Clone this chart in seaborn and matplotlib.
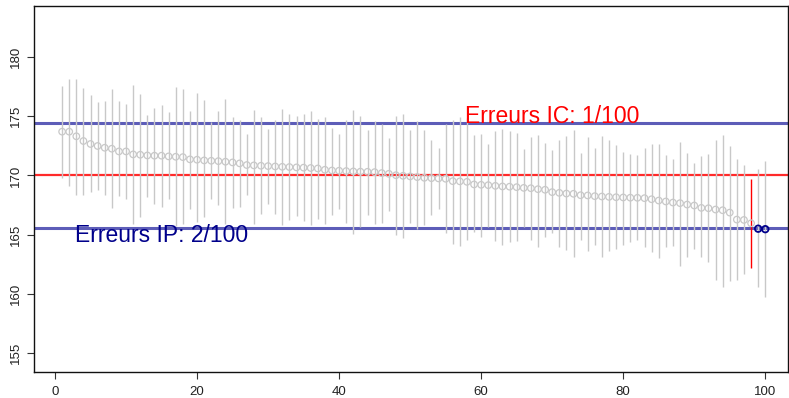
import matplotlib
matplotlib.use("Agg")
import matplotlib.pyplot as plt
import numpy as np
import pandas as pd
import seaborn as sns

# Simulated samples: sorted means with their confidence intervals
means = [173.70, 173.70, 173.31, 172.91, 172.66, 172.49, 172.34, 172.26, 172.03, 172.03,
         171.78, 171.75, 171.69, 171.67, 171.67, 171.61, 171.58, 171.55, 171.36, 171.33,
         171.27, 171.24, 171.21, 171.16, 171.10, 171.02, 170.88, 170.85, 170.82, 170.79,
         170.76, 170.73, 170.71, 170.68, 170.66, 170.63, 170.59, 170.48, 170.42, 170.40,
         170.37, 170.34, 170.32, 170.31, 170.28, 170.20, 170.14, 170.02, 169.97, 169.92,
         169.86, 169.80, 169.77, 169.75, 169.72, 169.52, 169.50, 169.46, 169.24, 169.21,
         169.18, 169.12, 169.07, 169.05, 169.01, 168.95, 168.92, 168.84, 168.79, 168.59,
         168.53, 168.47, 168.45, 168.33, 168.31, 168.25, 168.22, 168.19, 168.16, 168.14,
         168.12, 168.11, 168.08, 167.99, 167.88, 167.80, 167.71, 167.66, 167.54, 167.46,
         167.26, 167.23, 167.12, 167.06, 166.86, 166.27, 166.24, 165.96, 165.50, 165.46]

upper = [177.54, 178.19, 178.19, 177.43, 176.78, 176.21, 176.33, 177.32, 176.27, 176.02,
         177.68, 176.86, 175.11, 175.68, 175.99, 175.34, 177.51, 177.29, 175.48, 177.01,
         176.41, 174.52, 175.42, 176.50, 174.92, 174.72, 173.53, 175.56, 174.97, 173.95,
         174.72, 175.65, 175.20, 175.03, 175.17, 175.42, 174.77, 174.94, 174.04, 173.47,
         174.66, 175.56, 175.00, 173.87, 174.58, 174.32, 173.19, 175.00, 175.23, 173.81,
         174.60, 173.87, 173.02, 172.34, 174.32, 174.72, 174.94, 174.89, 173.39, 173.53,
         172.68, 173.73, 173.95, 173.76, 173.59, 172.23, 173.25, 173.39, 172.74, 172.12,
         173.02, 173.31, 173.81, 171.89, 173.25, 172.32, 173.33, 173.02, 172.60, 171.98,
         171.84, 171.69, 172.34, 172.68, 172.68, 171.69, 171.38, 172.82, 171.89, 171.05,
         171.61, 171.78, 173.02, 173.45, 172.51, 171.36, 170.90, 169.66, 170.51, 171.21]

lower = [169.80, 169.10, 168.39, 168.39, 168.59, 168.79, 168.31, 167.26, 168.28, 168.02,
         165.90, 166.53, 168.22, 167.60, 167.37, 168.02, 165.76, 165.90, 167.18, 166.05,
         166.47, 168.02, 167.54, 165.90, 167.26, 167.32, 168.31, 165.90, 166.75, 167.60,
         166.75, 165.85, 166.27, 166.61, 166.19, 165.85, 166.33, 165.90, 166.69, 167.18,
         165.96, 165.06, 165.62, 166.67, 165.90, 165.99, 167.03, 164.97, 164.72, 165.99,
         165.48, 165.85, 166.69, 167.18, 165.14, 164.21, 164.07, 164.55, 165.20, 164.77,
         165.62, 164.44, 164.15, 164.35, 164.49, 165.62, 164.55, 163.93, 164.83, 165.11,
         163.98, 163.70, 163.14, 164.55, 163.64, 164.15, 163.14, 163.59, 163.79, 164.15,
         164.35, 164.55, 163.98, 163.50, 163.02, 163.93, 164.04, 162.37, 163.08, 163.79,
         163.08, 162.66, 161.16, 160.59, 161.10, 161.16, 161.67, 162.15, 160.54, 159.75]

mu = 170.0
pred_low, pred_high = 165.57, 174.43
label_ic = "Erreurs IC: 1/100"
label_ip = "Erreurs IP: 2/100"

df = pd.DataFrame({"sample": np.arange(1, len(means) + 1),
                   "mean": means, "lower": lower, "upper": upper})
df["ic_miss"] = (df["lower"] > mu) | (df["upper"] < mu)
df["ip_miss"] = (df["mean"] < pred_low) | (df["mean"] > pred_high)

sns.set_style("white")
plt.rcParams["font.family"] = ["Liberation Sans", "DejaVu Sans"]

fig = plt.figure(figsize=(7.89, 3.98), dpi=100)
ax = fig.add_axes([34 / 789, 26 / 398, (788 - 34) / 789, (372 - 6) / 398])

grey = "#c8c8c8"
ok = df[~df["ic_miss"]]
bad = df[df["ic_miss"]]
ax.vlines(ok["sample"], ok["lower"], ok["upper"], color=grey, lw=1.0, zorder=2)
ax.vlines(bad["sample"], bad["lower"], bad["upper"], color="red", lw=1.0, zorder=3)

inside = df[~df["ip_miss"]]
outside = df[df["ip_miss"]]
sns.scatterplot(data=inside, x="sample", y="mean", ax=ax, marker="o", s=22,
                facecolor="none", edgecolor=grey, linewidth=0.9, zorder=4)
sns.scatterplot(data=outside, x="sample", y="mean", ax=ax, marker="o", s=22,
                facecolor="none", edgecolor="#00008b", linewidth=1.3, zorder=5)

ax.axhline(mu, color="#ff2a2a", lw=1.6, zorder=1)
ax.axhline(pred_high, color="#5d5db8", lw=2.2, zorder=1)
ax.axhline(pred_low, color="#5d5db8", lw=2.2, zorder=1)

ax.text(70, 175.0, label_ic, color="red", fontsize=16.5, ha="center", va="center", zorder=6)
ax.text(15, 164.9, label_ip, color="#00008b", fontsize=16.5, ha="center", va="center", zorder=6)

ax.set_xlim(-2.96, 103.2)
ax.set_ylim(153.39, 184.32)
ax.set_xticks([0, 20, 40, 60, 80, 100])
ax.set_yticks([155, 160, 165, 170, 175, 180])
ax.set_xlabel("")
ax.set_ylabel("")
for lab in ax.get_yticklabels():
    lab.set_rotation(90)
    lab.set_va("center")
ax.tick_params(axis="both", direction="out", length=5, width=0.8, labelsize=9.5,
               color="#333333", labelcolor="#222222", left=True, bottom=True)
ax.tick_params(axis="x", pad=5)
ax.tick_params(axis="y", pad=4)
for side in ["left", "right", "top", "bottom"]:
    ax.spines[side].set_visible(True)
    ax.spines[side].set_color("#111111")
    ax.spines[side].set_linewidth(1.0)

fig.savefig("out.png", dpi=100)
